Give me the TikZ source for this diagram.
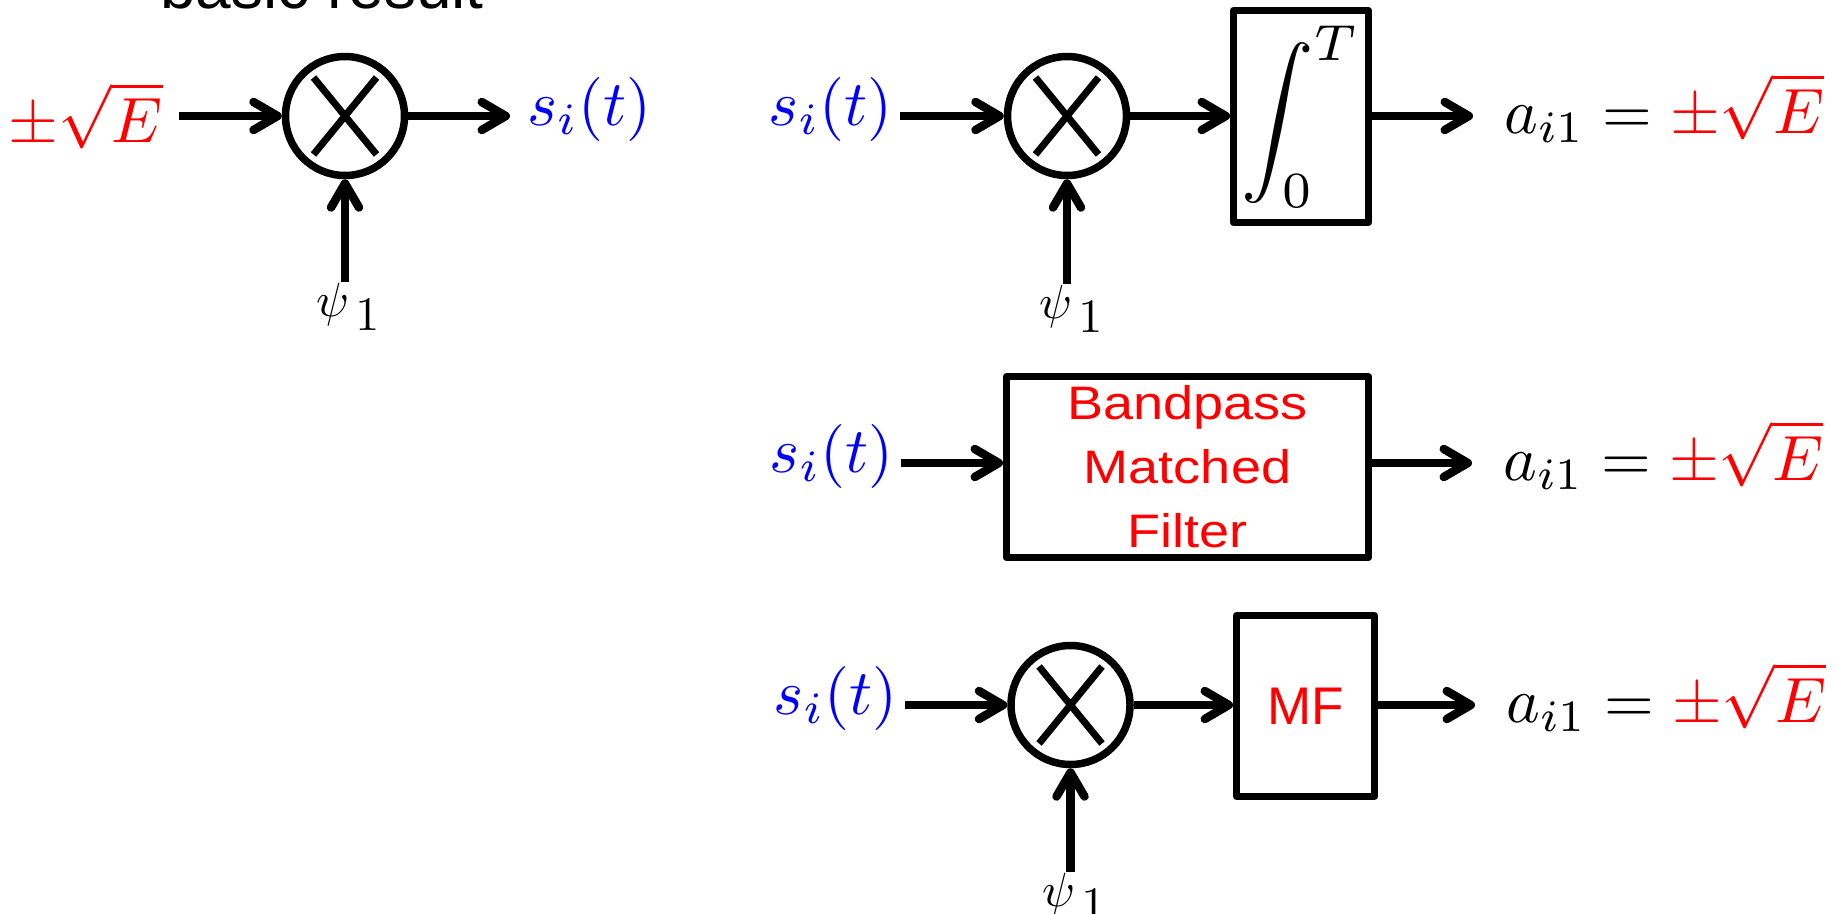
\documentclass[tikz,border=0pt]{standalone}
\usepackage{amsmath}
\usepackage{graphicx}
\usepackage{fontspec}
\newfontfamily\arialfont{Liberation Sans}
\newfontfamily\arialwide[FakeStretch=1.15]{Liberation Sans}
\usetikzlibrary{arrows.meta}
\newcommand{\bigmath}[2]{\scalebox{#1}{$#2$}}
\newcommand{\psione}{\bigmath{4.8}{\psi_{\textstyle\mkern3mu 1}}}
\begin{document}
\begin{tikzpicture}[x=1pt,y=-1pt,
  mult/.style={circle, draw, line width=7.5pt, minimum size=119pt, inner sep=0pt,
    path picture={\draw[line width=7pt]
      ([shift={(-31.5,-38.5)}]path picture bounding box.center) -- ([shift={(31.5,38.5)}]path picture bounding box.center)
      ([shift={(31.5,-38.5)}]path picture bounding box.center) -- ([shift={(-31.5,38.5)}]path picture bounding box.center);}},
  blk/.style={draw, rectangle, line width=7pt, line join=round, inner sep=0pt},
  arr/.style={line width=8.5pt, -{Straight Barb[length=24pt, width=28pt, round]}},
  mth/.style={inner ysep=0pt},
  psilab/.style={inner sep=0pt, anchor=base west},
  ttl/.style={font=\arialfont\fontsize{64}{70}\selectfont, inner sep=0pt, anchor=base}
]
\useasboundingbox (0,0) rectangle (1843,913);

% title (cut off at top)
\node[ttl] (title) at (322,8.5) {basic result};

% ---- top left
\node[mth, text=red, anchor=base east, inner xsep=16pt] (e0) at (179,142) {\bigmath{6.4}{\pm\sqrt{E}}};
\node[mult] (m0) at (345,116) {};
\node[mth, text=blue, anchor=base west, inner xsep=17pt] (s0) at (510,125) {\bigmath{6.4}{s_i(t)}};
\node[psilab] (p0) at (316,316) {\psione};
\draw[arr] (e0.east |- m0) -- (m0);
\draw[arr] (m0) -- (s0.west |- m0);
\draw[arr] (m0 |- p0.north) -- (m0);

% ---- top right
\node[mth, text=blue, anchor=base east, inner xsep=7pt] (s1) at (900,125) {\bigmath{6.4}{s_i(t)}};
\node[mult] (m1) at (1067,116) {};
\node[blk, minimum width=135pt, minimum height=212pt] (b1) at (1301,116.5) {\bigmath{7.25}{\displaystyle\int_0^T}};
\node[mth, anchor=base west, inner xsep=31pt] (o1) at (1473,133) {\bigmath{6.4}{a_{i1} = {\color{red}\pm\sqrt{E}}}};
\node[psilab] (p1) at (1039,318) {\psione};
\draw[arr] (s1.east |- m1) -- (m1);
\draw[arr] (m1) -- (b1.west |- m1);
\draw[arr] (b1.east |- m1) -- (o1.west |- m1);
\draw[arr] (m1 |- p1.north) -- (m1);

% ---- middle
\coordinate (r2) at (0,463);
\node[mth, text=blue, anchor=base east, inner xsep=7pt] (s2) at (901,472) {\bigmath{6.4}{s_i(t)}};
\node[blk, minimum width=362pt, minimum height=181pt, font=\arialwide\fontsize{47}{64}\selectfont, text=red, align=center] (b2) at (1187.5,467) {Bandpass\\Matched\\Filter};
\node[mth, anchor=base west, inner xsep=31pt] (o2) at (1472,480) {\bigmath{6.4}{a_{i1} = {\color{red}\pm\sqrt{E}}}};
\draw[arr] (s2.east |- r2) -- (b2.west |- r2);
\draw[arr] (b2.east |- r2) -- (o2.west |- r2);

% ---- bottom
\node[mth, text=blue, anchor=base east, inner xsep=7pt] (s3) at (905,714) {\bigmath{6.4}{s_i(t)}};
\node[mult] (m3) at (1070.5,705) {};
\node[blk, minimum width=138pt, minimum height=181pt, font=\arialfont\fontsize{53}{60}\selectfont, text=red] (b3) at (1305.5,706) {MF};
\node[mth, anchor=base west, inner xsep=31pt] (o3) at (1475,722) {\bigmath{6.4}{a_{i1} = {\color{red}\pm\sqrt{E}}}};
\node[psilab] (p3) at (1042,906) {\psione};
\draw[arr] (s3.east |- m3) -- (m3);
\draw[arr] (m3) -- (b3.west |- m3);
\draw[arr] (b3.east |- m3) -- (o3.west |- m3);
\draw[arr] (m3 |- p3.north) -- (m3);
\end{tikzpicture}
\end{document}
